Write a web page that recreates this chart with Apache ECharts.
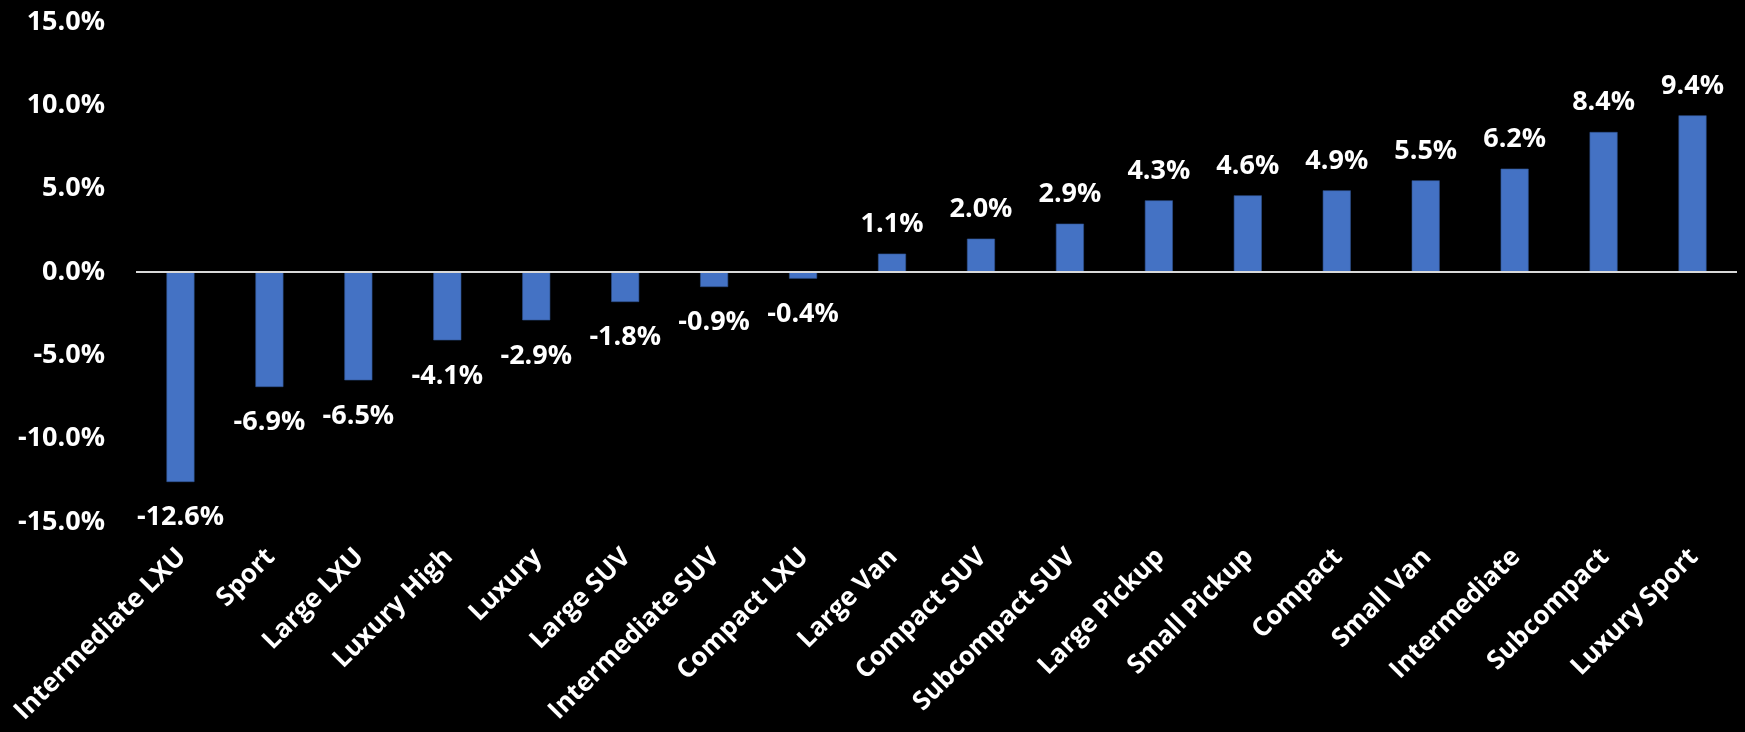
<!DOCTYPE html>
<html>
<head>
<meta charset="utf-8">
<script src="https://cdn.jsdelivr.net/npm/echarts@6/dist/echarts.min.js"></script>
<style>
  html, body { margin: 0; padding: 0; background: #000; }
  #chart { width: 1745px; height: 732px; }
</style>
</head>
<body>
<div id="chart"></div>
<script>
// Segment names, in order of change
const categories = [
  'Intermediate LXU', 'Sport', 'Large LXU', 'Luxury High', 'Luxury',
  'Large SUV', 'Intermediate SUV', 'Compact LXU', 'Large Van', 'Compact SUV',
  'Subcompact SUV', 'Large Pickup', 'Small Pickup', 'Compact', 'Small Van',
  'Intermediate', 'Subcompact', 'Luxury Sport'
];

// Percentage change per segment
const changes = [
  -12.6, -6.9, -6.5, -4.1, -2.9, -1.8, -0.9, -0.4, 1.1, 2.0,
  2.9, 4.3, 4.6, 4.9, 5.5, 6.2, 8.4, 9.4
];

// Value axis range and step (percent)
const yMin = -15;
const yMax = 15;
const yStep = 5;

const FONT = '"Open Sans"';
const pct = v => Number(v).toFixed(1) + '%';

const chart = echarts.init(document.getElementById('chart'));
chart.setOption({
  backgroundColor: '#000000',
  animation: false,
  grid: {
    left: 136, right: 8, top: 22, bottom: 210,
    containLabel: false,
    outerBoundsMode: 'none'
  },
  xAxis: {
    type: 'category',
    data: categories,
    axisLine: { show: false, onZero: false },
    axisTick: { show: false },
    axisLabel: {
      interval: 0,
      rotate: 45,
      align: 'right',
      verticalAlign: 'top',
      margin: 14,
      padding: [0, 11, 0, 0],
      color: '#ffffff',
      fontFamily: FONT,
      fontWeight: 'bold',
      fontSize: 26
    }
  },
  yAxis: {
    type: 'value',
    min: yMin,
    max: yMax,
    interval: yStep,
    axisLine: { show: false },
    axisTick: { show: false },
    splitLine: { show: false },
    axisLabel: {
      margin: 31,
      color: '#ffffff',
      fontFamily: FONT,
      fontWeight: 'bold',
      fontSize: 27,
      formatter: pct
    }
  },
  series: [{
    type: 'bar',
    // Negative values carry their label below the bar end
    data: changes.map(v => ({
      value: v,
      label: v < 0 ? { position: 'bottom', distance: 22 } : { position: 'top', distance: 16 }
    })),
    barWidth: 28,
    itemStyle: { color: '#4472C4', borderColor: '#2F528F', borderWidth: 0.6 },
    label: {
      show: true,
      color: '#ffffff',
      fontFamily: FONT,
      fontWeight: 'bold',
      fontSize: 27,
      formatter: p => pct(p.value)
    },
    markLine: {
      silent: true,
      symbol: 'none',
      label: { show: false },
      lineStyle: { color: '#d9d9d9', width: 2, type: 'solid' },
      data: [{ yAxis: 0 }]
    }
  }]
});
</script>
</body>
</html>
